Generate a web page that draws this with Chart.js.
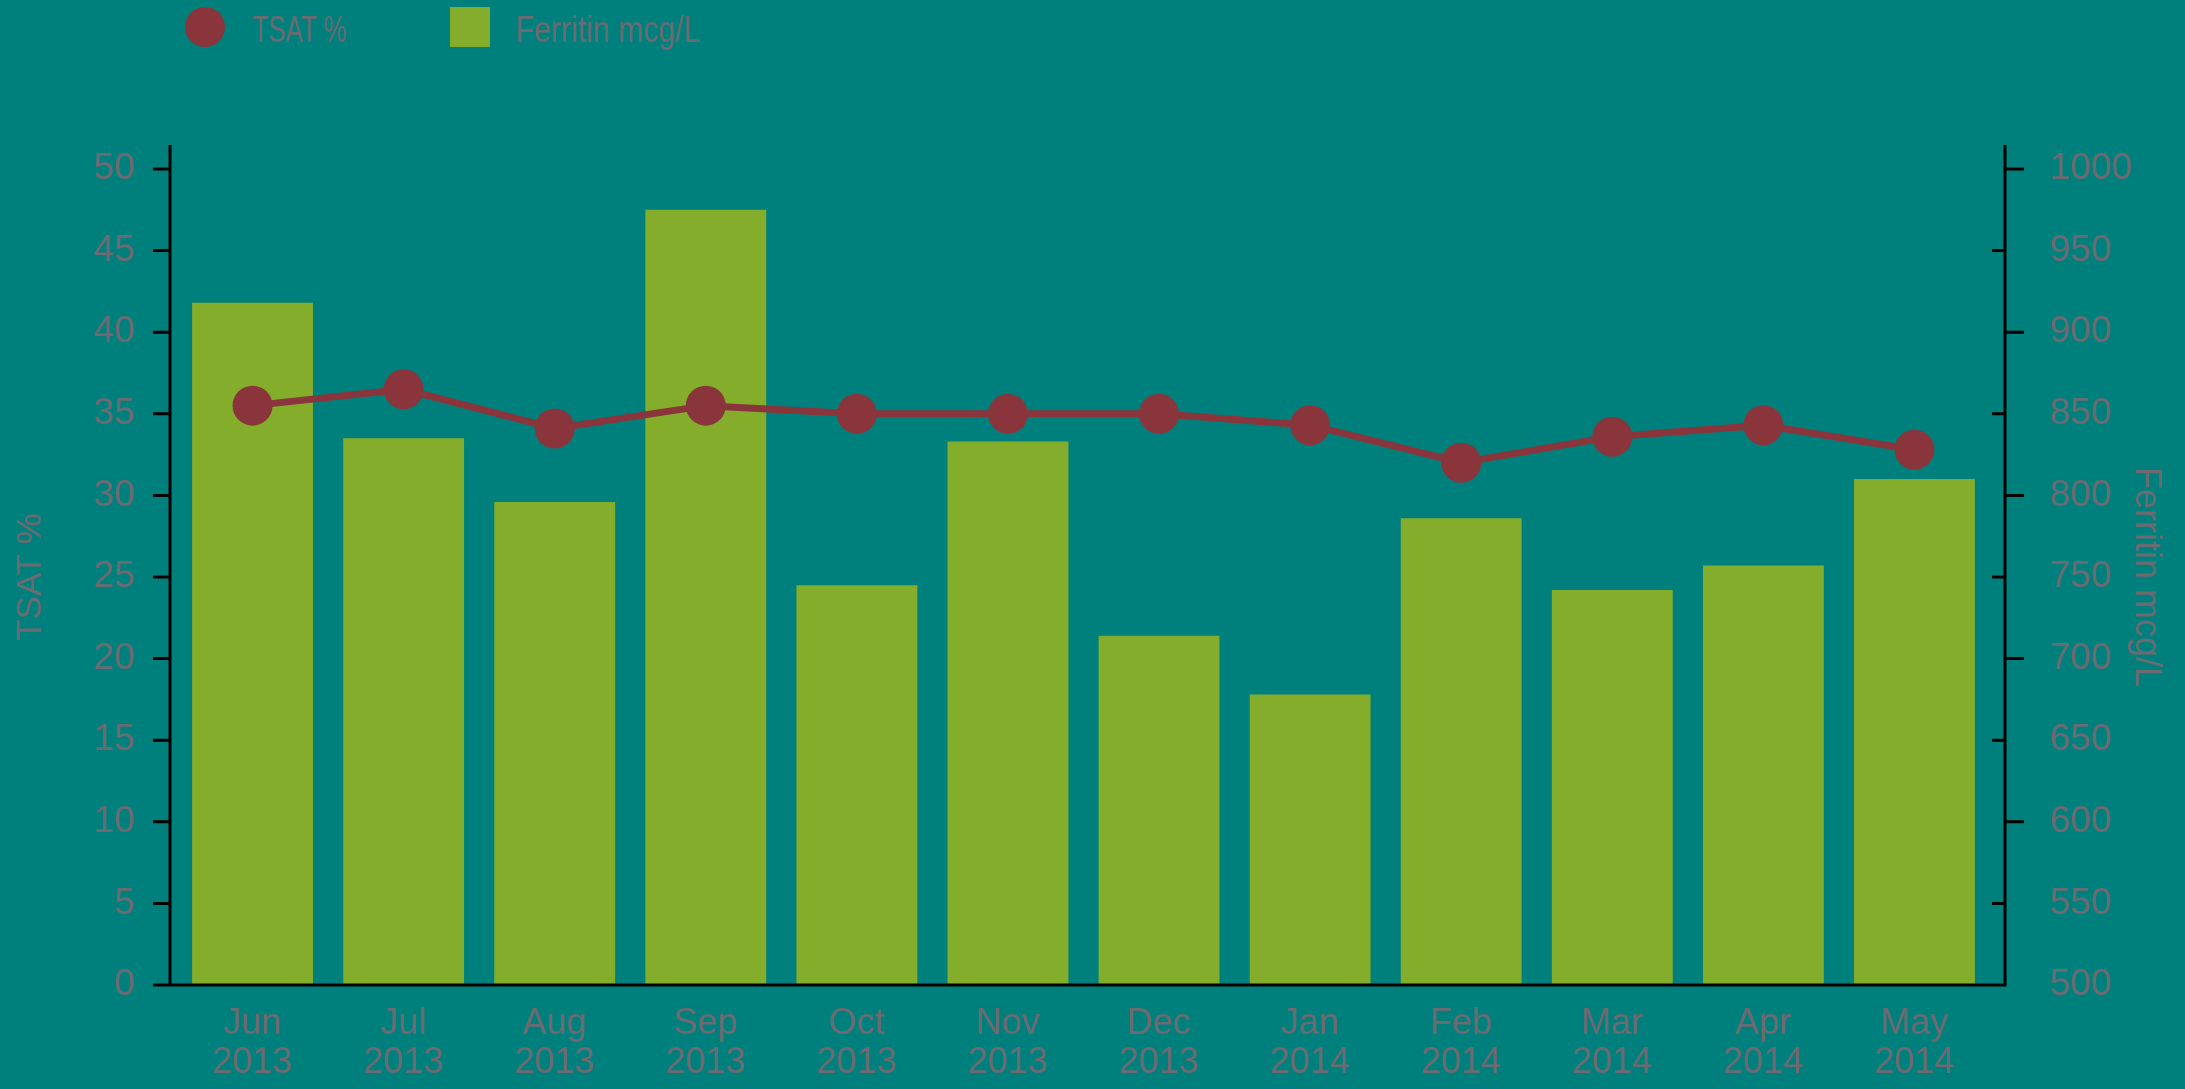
<!DOCTYPE html>
<html>
<head>
<meta charset="utf-8">
<script src="https://cdn.jsdelivr.net/npm/chart.js@4.4.1/dist/chart.umd.min.js"></script>
<style>
html,body{margin:0;padding:0;background:#00807d;width:2185px;height:1089px;overflow:hidden;}
#wrap{position:relative;width:2185px;height:1089px;}
canvas{position:absolute;left:0;top:0;}
.lg{position:absolute;font-family:"Liberation Sans",Arial,sans-serif;font-size:36px;line-height:36px;color:#6d6b72;white-space:nowrap;transform-origin:0 0;}
.mk{position:absolute;}
</style>
</head>
<body>
<div id="wrap">
<canvas id="c" width="2185" height="1089"></canvas>
<div class="mk" style="left:185px;top:7px;width:40px;height:40px;border-radius:50%;background:#8a353c"></div>
<div class="lg" style="left:253px;top:12px;transform:scaleX(0.72)">TSAT %</div>
<div class="mk" style="left:450px;top:7px;width:40px;height:40px;background:#84ad2c"></div>
<div class="lg" style="left:516px;top:12px;transform:scaleX(0.84)">Ferritin mcg/L</div>
</div>
<script>
const months = ["Jun","Jul","Aug","Sep","Oct","Nov","Dec","Jan","Feb","Mar","Apr","May"];
const years = ["2013","2013","2013","2013","2013","2013","2013","2014","2014","2014","2014","2014"];
const tsatValues = [35.5, 36.5, 34.1, 35.5, 35.0, 35.0, 35.0, 34.3, 32.0, 33.6, 34.3, 32.8];
const ferritinValues = [918, 835, 796, 975, 745, 833, 714, 678, 786, 742, 757, 810];
const tsatTicks = {min: 0, max: 50, step: 5};
const ferritinTicks = {min: 500, max: 1000, step: 50};

const labels = months.map((m, i) => [m, years[i]]);
const GREY = '#6d6b72';
const RED = '#8a353c';
const GREEN = '#84ad2c';

const axisLines = {
  id: 'axisLines',
  afterDatasetsDraw(chart) {
    const {ctx, chartArea: a, scales} = chart;
    const L = a.left - 7, R = a.right + 15, T = a.top - 24;
    const B = scales.y.getPixelForValue(tsatTicks.min);
    ctx.save();
    ctx.strokeStyle = '#000';
    ctx.lineWidth = 3;
    ctx.lineCap = 'butt';
    ctx.beginPath();
    ctx.moveTo(L, T); ctx.lineTo(L, B + 1.5);
    ctx.moveTo(L - 17, B); ctx.lineTo(R, B);
    ctx.moveTo(R, T); ctx.lineTo(R, B + 1.5);
    scales.y.ticks.forEach(t => {
      const py = scales.y.getPixelForValue(t.value);
      ctx.moveTo(L - 17, py); ctx.lineTo(L, py);
    });
    scales.y1.ticks.forEach(t => {
      if (t.value === ferritinTicks.min) return;
      const py = scales.y1.getPixelForValue(t.value);
      if (t.value % 100 === 0) { ctx.moveTo(R, py); ctx.lineTo(R + 19, py); }
      else { ctx.moveTo(R - 13, py); ctx.lineTo(R, py); }
    });
    ctx.stroke();
    ctx.restore();
  }
};

new Chart(document.getElementById('c'), {
  type: 'bar',
  data: {
    labels: labels,
    datasets: [
      {
        type: 'line',
        label: 'TSAT %',
        data: tsatValues,
        yAxisID: 'y',
        borderColor: RED,
        backgroundColor: RED,
        borderWidth: 7,
        tension: 0,
        pointRadius: 20,
        pointHoverRadius: 20,
        pointBorderWidth: 0,
        pointBackgroundColor: RED,
        order: 0
      },
      {
        type: 'bar',
        label: 'Ferritin mcg/L',
        data: ferritinValues,
        yAxisID: 'y1',
        backgroundColor: GREEN,
        borderWidth: 0,
        categoryPercentage: 1.0,
        barPercentage: 0.8,
        order: 1
      }
    ]
  },
  options: {
    responsive: false,
    animation: false,
    devicePixelRatio: 1,
    layout: {padding: {left: 0, right: 0, top: 169, bottom: 0}},
    plugins: {legend: {display: false}, tooltip: {enabled: false}},
    scales: {
      x: {
        grid: {display: false, drawTicks: false},
        border: {display: false},
        ticks: {
          color: GREY,
          padding: 20,
          font: {family: '"Liberation Sans", Arial, sans-serif', size: 36, lineHeight: 1.083},
          maxRotation: 0, autoSkip: false
        },
        afterFit(s) { s.height = 104; }
      },
      y: {
        position: 'left',
        min: tsatTicks.min, max: tsatTicks.max,
        grid: {display: false, drawTicks: false},
        border: {display: false},
        ticks: {
          stepSize: tsatTicks.step, color: GREY, padding: 42,
          font: {family: '"Liberation Sans", Arial, sans-serif', size: 37},
          callback: v => String(v)
        },
        title: {
          display: true, text: 'TSAT %', color: GREY,
          font: {family: '"Liberation Sans", Arial, sans-serif', size: 35, lineHeight: 1.2},
          padding: {top: 10, bottom: 0}
        },
        afterFit(s) { s.width = 177; }
      },
      y1: {
        position: 'right',
        min: ferritinTicks.min, max: ferritinTicks.max,
        grid: {display: false, drawTicks: false},
        border: {display: false},
        ticks: {
          stepSize: ferritinTicks.step, color: GREY, padding: 60,
          font: {family: '"Liberation Sans", Arial, sans-serif', size: 37},
          callback: v => String(v)
        },
        title: {
          display: true, text: 'Ferritin mcg/L', color: GREY,
          font: {family: '"Liberation Sans", Arial, sans-serif', size: 36, lineHeight: 1.2},
          padding: {top: 17, bottom: 0}
        },
        afterFit(s) { s.width = 195; }
      }
    }
  },
  plugins: [axisLines]
});
</script>
</body>
</html>
